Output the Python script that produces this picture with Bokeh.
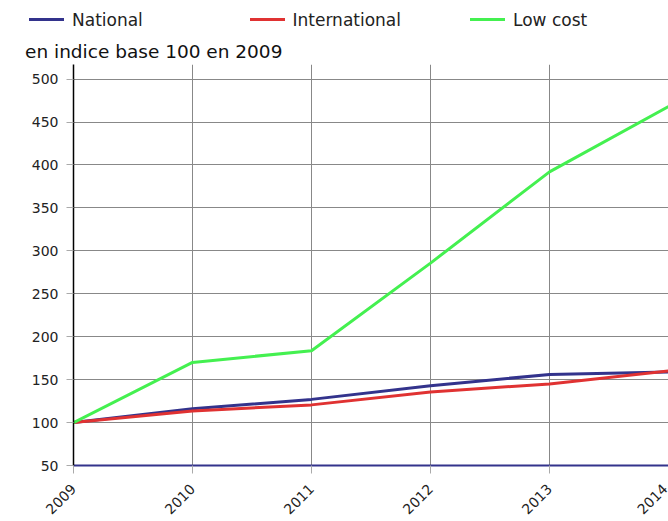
import math
from bokeh.plotting import figure
from bokeh.layouts import column
from bokeh.models import Range1d, FixedTicker, Div
from bokeh.embed import file_html
from bokeh.resources import INLINE

years = [2009, 2010, 2011, 2012, 2013, 2014]
national = [100, 116, 127, 143, 156, 159]
international = [100, 113.6, 120.6, 135.7, 145, 160]
low_cost = [100, 170, 183.7, 285.7, 392, 468]
y_ticks = [50, 100, 150, 200, 250, 300, 350, 400, 450, 500]
series_names = ["National", "International", "Low cost"]
series_colors = ["#33338c", "#e03232", "#44f050"]
subtitle_text = "en indice base 100 en 2009"

FONT = "DejaVu Sans"

# ---- header: legend + subtitle ----
parts = []
for i, (name, col) in enumerate(zip(series_names, series_colors)):
    x0 = 29 + i * 220.5
    parts.append(
        f'<span style="position:absolute;left:{x0}px;top:18px;width:35px;height:0;'
        f'border-top:3px solid {col};"></span>'
        f'<span style="position:absolute;left:{x0 + 43}px;top:10px;font-size:17px;'
        f'line-height:20px;white-space:nowrap;color:#222222;">{name}</span>')
parts.append(
    f'<span style="position:absolute;left:25px;top:41px;font-size:18.5px;line-height:22px;'
    f'white-space:nowrap;color:#111111;">{subtitle_text}</span>')
header_html = (f'<div style="position:relative;width:668px;height:64px;'
               f'font-family:\'{FONT}\';margin:0;padding:0;">' + "".join(parts) + '</div>')
header = Div(text=header_html, width=668, height=64, margin=(0, 0, 0, 0))

# ---- main chart ----
p = figure(width=668, height=457, output_backend="svg", toolbar_location=None,
           x_range=Range1d(2009, 2014), y_range=Range1d(50, 517),
           min_border_left=73, min_border_right=0, min_border_top=0, min_border_bottom=55)
p.outline_line_color = None
p.background_fill_color = "white"
p.border_fill_color = "white"

for vals, c in zip([national, international, low_cost], series_colors):
    p.line(years, vals, line_color=c, line_width=3)

p.xaxis.ticker = FixedTicker(ticks=years)
p.yaxis.ticker = FixedTicker(ticks=y_ticks)
p.xaxis.major_label_orientation = math.pi / 4
p.xaxis.axis_line_color = "#33338c"
p.xaxis.axis_line_width = 2
p.xaxis.major_tick_line_color = "#aaaaaa"
p.xaxis.major_tick_out = 8
p.xaxis.major_tick_in = 0
p.xaxis.minor_tick_line_color = None
p.xaxis.major_label_text_font = FONT
p.xaxis.major_label_text_font_size = "14px"
p.xaxis.major_label_text_color = "#222222"
p.xaxis.major_label_standoff = 13

p.yaxis.axis_line_color = "black"
p.yaxis.axis_line_width = 1.5
p.yaxis.major_tick_line_color = "#aaaaaa"
p.yaxis.major_tick_out = 7
p.yaxis.major_tick_in = 0
p.yaxis.minor_tick_line_color = None
p.yaxis.major_label_text_font = FONT
p.yaxis.major_label_text_font_size = "14px"
p.yaxis.major_label_text_color = "#222222"
p.yaxis.major_label_standoff = 8

p.xgrid.grid_line_color = "#888888"
p.ygrid.grid_line_color = "#888888"

layout = column(header, p, spacing=0)
open("out.html", "w").write(file_html(layout, INLINE))
